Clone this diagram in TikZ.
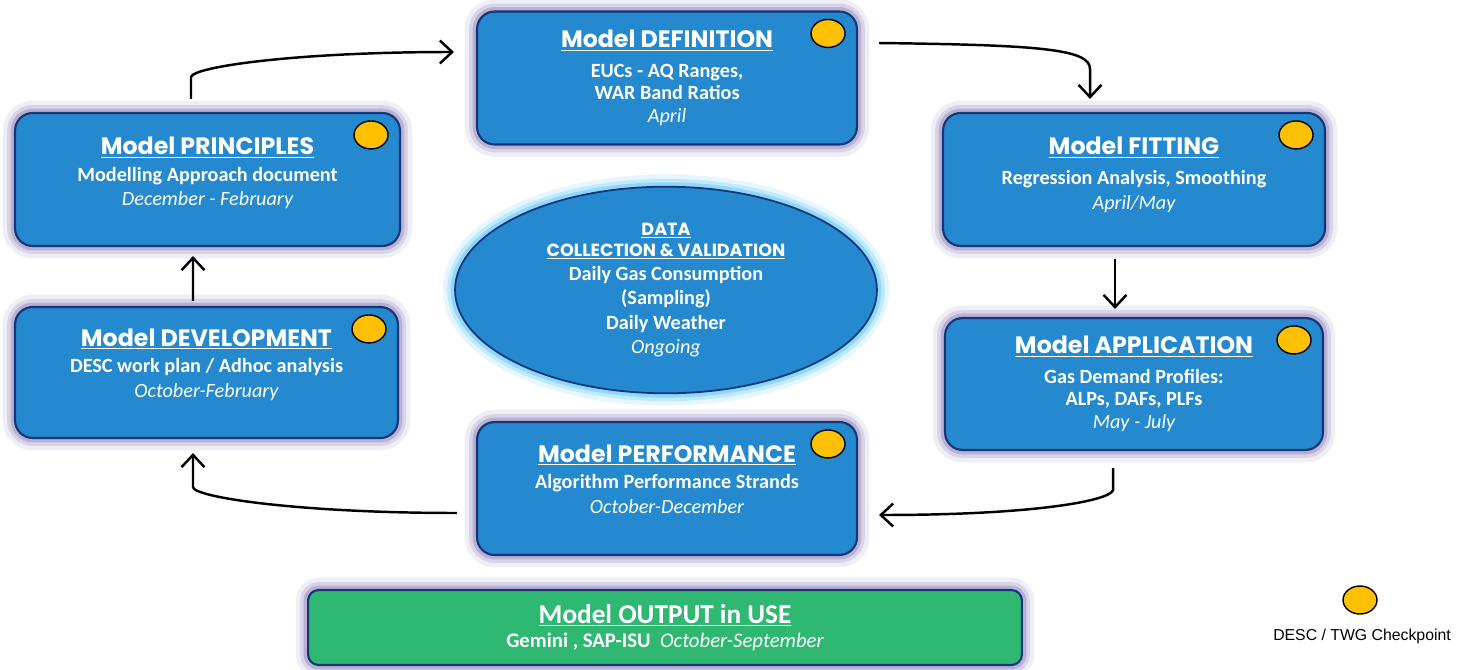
\documentclass[tikz,border=0pt]{standalone}
\usepackage{fontspec}
\setmainfont{Carlito}
\newfontfamily\titlefont{Poppins}
\newfontfamily\legendfont{Liberation Sans}
\usetikzlibrary{arrows.meta,shapes.geometric}

\definecolor{boxblue}{RGB}{36,137,206}
\definecolor{boxedge}{RGB}{22,52,120}
\definecolor{glowpurple}{RGB}{125,110,175}
\definecolor{glowcyan}{RGB}{80,195,250}
\definecolor{outgreen}{RGB}{46,184,114}
\definecolor{dotyellow}{RGB}{255,192,0}

\newcommand{\stagetitle}[1]{{\titlefont\bfseries\fontsize{13.5}{16}\selectfont\underline{#1}}}
\newcommand{\datatitle}[1]{{\titlefont\bfseries\fontsize{10}{12}\selectfont\underline{#1}}}
\newcommand{\stagewhen}[1]{{\mdseries\itshape #1}}

\begin{document}
\begin{tikzpicture}[x=0.02cm,y=-0.02cm,thick,
   flow/.style={->,>={Straight Barb[length=7pt,width=13pt]},line width=1.4pt},
   stage/.style={rectangle,rounded corners=10pt,draw=boxedge,line width=1.2pt,fill=boxblue,
     text=white,align=center,font=\bfseries\fontsize{11.5}{14}\selectfont,
     minimum width=7.6cm,minimum height=2.66cm,
     preaction={draw=glowpurple,line width=14pt,opacity=0.12},
     preaction={draw=glowpurple,line width=9pt,opacity=0.2},
     preaction={draw=glowpurple,line width=5pt,opacity=0.35}},
   tight/.style={font=\bfseries\fontsize{11.5}{12.9}\selectfont},
   datapool/.style={ellipse,draw=boxedge,line width=1pt,fill=boxblue,text=white,align=center,
     font=\bfseries\fontsize{11.5}{13.9}\selectfont,minimum width=8.44cm,minimum height=3.7cm,
     preaction={draw=glowcyan,line width=14pt,opacity=0.15},
     preaction={draw=glowcyan,line width=9pt,opacity=0.25},
     preaction={draw=glowcyan,line width=5pt,opacity=0.45}},
   checkpoint/.style={ellipse,draw=black,line width=0.8pt,fill=dotyellow,
     minimum width=0.68cm,minimum height=0.56cm,inner sep=0pt}]

  \useasboundingbox (0,0) rectangle (1463,669);

  % cycle of stages
  \node[stage,tight] (def) at (667,78) {\stagetitle{Model DEFINITION}\\[4pt]
    EUCs - AQ Ranges,\\ WAR Band Ratios\\ \stagewhen{April}};
  \node[stage,minimum width=7.7cm] (princ) at (207.5,179.5) {\stagetitle{Model PRINCIPLES}\\[1pt]
    Modelling Approach document\\ \stagewhen{December - February}\\[-5pt]};
  \node[stage,minimum width=7.64cm] (fit) at (1134,179.5) {\stagetitle{Model FITTING}\\[3pt]
    Regression Analysis, Smoothing\\ \stagewhen{April/May}\\[-7pt]};
  \node[stage,tight,minimum width=7.56cm,minimum height=2.64cm] (appl) at (1134,384) {\stagetitle{Model APPLICATION}\\[4pt]
    Gas Demand Profiles:\\ ALPs, DAFs, PLFs\\ \stagewhen{May - July}};
  \node[stage,minimum width=7.66cm,minimum height=2.62cm] (dev) at (206.5,372.5) {\stagetitle{Model DEVELOPMENT}\\[1pt]
    DESC work plan / Adhoc analysis\\ \stagewhen{October-February}\\[-3pt]};
  \node[stage] (perf) at (667,488.5) {\stagetitle{Model PERFORMANCE}\\[1pt]
    Algorithm Performance Strands\\ \stagewhen{October-December}\\[-3pt]};

  % data in the middle
  \node[datapool] (data) at (666,290) {\datatitle{DATA}\\[-2pt] \datatitle{COLLECTION \& VALIDATION}\\
    Daily Gas Consumption\\ (Sampling)\\ Daily Weather\\ \stagewhen{Ongoing}};

  % output
  \node[stage,fill=outgreen,minimum width=14.28cm,minimum height=1.5cm,rounded corners=6pt,
    font=\bfseries\fontsize{11.8}{14}\selectfont] (out) at (665,627.5)
    {{\fontsize{15.5}{17}\selectfont\underline{Model OUTPUT in USE}}\\[0pt]
     Gemini , SAP-ISU\ \ \stagewhen{October-September}};

  % checkpoints
  \foreach \n in {def,princ,fit,appl,dev,perf}
    \node[checkpoint] (\n-cp) at ([xshift=-0.6cm,yshift=-0.46cm]\n.north east) {};

  % arrows
  \draw[flow] ([xshift=-0.33cm,yshift=0.26cm]princ.north) -- ++(0,-22)
    .. controls +(2,-10) and +(-160,0) .. ([xshift=-0.44cm,yshift=0.52cm]def.west);
  \draw[flow] ([xshift=0.42cm,yshift=0.7cm]def.east)
    .. controls +(160,2) and +(0,-20) .. ([xshift=-0.88cm,yshift=0.86cm]fit.north)
    -- ([xshift=-0.88cm,yshift=0.26cm]fit.north);
  \draw[flow] ([xshift=-0.38cm,yshift=-0.24cm]fit.south) -- ([xshift=-0.38cm,yshift=0.16cm]appl.north);
  \draw[flow] ([xshift=-0.42cm,yshift=-0.34cm]appl.south) -- ++(0,22)
    .. controls +(-2,10) and +(160,0) .. ([xshift=0.42cm,yshift=-0.53cm]perf.east);
  \draw[flow] ([xshift=-0.38cm,yshift=-0.49cm]perf.west)
    .. controls +(-160,0) and +(0,10) .. ([xshift=-0.27cm,yshift=-0.96cm]dev.south)
    -- ([xshift=-0.27cm,yshift=-0.28cm]dev.south);
  \draw[flow] ([xshift=-0.27cm,yshift=0.1cm]dev.north) -- ([xshift=-0.29cm,yshift=-0.18cm]princ.south);

  % key
  \node[checkpoint] (key) at (1360,600) {};
  \node[font=\legendfont\fontsize{9}{11}\selectfont] (keytext) at (1362,636) {DESC / TWG Checkpoint};
\end{tikzpicture}
\end{document}
